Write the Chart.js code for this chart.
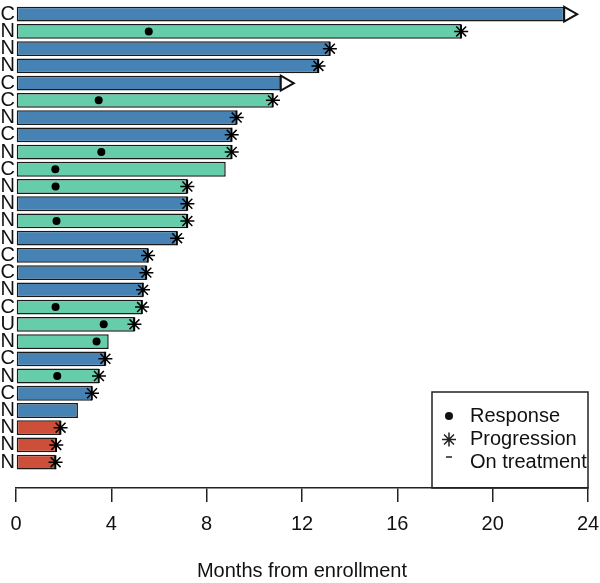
<!DOCTYPE html>
<html>
<head>
<meta charset="utf-8">
<script src="https://cdn.jsdelivr.net/npm/chart.js@4.4.1/dist/chart.umd.min.js"></script>
<style>
  html, body { margin: 0; padding: 0; background: #fff; }
</style>
</head>
<body>
<canvas id="swimmer" width="600" height="583"></canvas>
<script>
// one row per patient, top to bottom
const groups = ['C','N','N','N','C','C','N','C','N','C','N','N','N','N','C','C','N','C','U','N','C','N','C','N','N','N','N'];
const months = [23.0, 18.68, 13.17, 12.69, 11.11, 10.78, 9.26, 9.05, 9.05, 8.80, 7.19, 7.19, 7.19, 6.76,
  5.54, 5.47, 5.33, 5.29, 4.97, 3.89, 3.75, 3.48, 3.19, 2.60, 1.87, 1.69, 1.66];
const arms = ['blue','green','blue','blue','blue','green','blue','blue','green','green','green','blue','green','blue',
  'blue','blue','blue','green','green','green','blue','green','blue','blue','red','red','red'];
const response = [null, 5.57, null, null, null, 3.47, null, null, 3.58, 1.65, 1.66, null, 1.70, null,
  null, null, null, 1.66, 3.68, 3.38, null, 1.73, null, null, null, null, null];
const progression = [null, 18.68, 13.17, 12.69, null, 10.78, 9.26, 9.05, 9.05, null, 7.19, 7.19, 7.19, 6.76,
  5.54, 5.47, 5.33, 5.29, 4.97, null, 3.75, 3.48, 3.19, null, 1.87, 1.69, 1.66];
const onTreatment = [23.0, null, null, null, 11.11, null, null, null, null, null, null, null, null, null,
  null, null, null, null, null, null, null, null, null, null, null, null, null];
const legendItems = ['Response', 'Progression', 'On treatment'];

const armColors = { blue: '#4682B4', green: '#66CDAA', red: '#CD4F39' };
const FONT = "'Liberation Sans', Arial, sans-serif";

// blank slot at the bottom gives the gap above the axis
const rowLabels = groups.concat(['']);

// open triangles for patients still on treatment
const arrowPlugin = {
  id: 'arrows',
  afterDatasetsDraw(chart) {
    const ctx = chart.ctx;
    const xs = chart.scales.x, ys = chart.scales.y;
    const barMeta = chart.getDatasetMeta(2);
    ctx.save();
    onTreatment.forEach((v, i) => {
      if (v == null) return;
      const x = xs.getPixelForValue(v);
      const y = ys.getPixelForValue(i);
      const h = barMeta.data[i].height / 2;
      ctx.beginPath();
      ctx.moveTo(x, y - h);
      ctx.lineTo(x + 13, y);
      ctx.lineTo(x, y + h);
      ctx.closePath();
      ctx.fillStyle = '#fff';
      ctx.fill();
      ctx.lineWidth = 2;
      ctx.strokeStyle = '#111';
      ctx.stroke();
    });
    ctx.restore();
  }
};

// R-style boxed legend in the bottom right corner
const boxLegend = {
  id: 'boxLegend',
  afterDraw(chart) {
    const ctx = chart.ctx;
    const a = chart.chartArea;
    const w = 156, h = 96;
    const left = a.right - w, top = a.bottom - h;
    ctx.save();
    ctx.lineWidth = 1.5;
    ctx.strokeStyle = '#222';
    ctx.strokeRect(left, top, w, h);
    ctx.font = '20px ' + FONT;
    ctx.fillStyle = '#111';
    ctx.textBaseline = 'middle';
    const rows = [top + 24, top + 47.5, top + 70];
    legendItems.forEach((t, k) => {
      ctx.fillText(t, left + 38, rows[k]);
    });
    const sx = left + 17;
    // dot
    ctx.beginPath();
    ctx.arc(sx, rows[0], 4, 0, Math.PI * 2);
    ctx.fill();
    // asterisk
    ctx.lineWidth = 1.5;
    ctx.beginPath();
    for (let k = 0; k < 4; k++) {
      const ang = k * Math.PI / 4;
      ctx.moveTo(sx - 7 * Math.cos(ang), rows[1] - 7 * Math.sin(ang));
      ctx.lineTo(sx + 7 * Math.cos(ang), rows[1] + 7 * Math.sin(ang));
    }
    ctx.stroke();
    // dash
    ctx.beginPath();
    ctx.moveTo(sx - 3, rows[2] - 5);
    ctx.lineTo(sx + 3, rows[2] - 5);
    ctx.stroke();
    ctx.restore();
  }
};

new Chart(document.getElementById('swimmer'), {
  type: 'bar',
  data: {
    labels: rowLabels,
    datasets: [
      {
        type: 'line',
        label: 'Response',
        data: response,
        indexAxis: 'y',
        showLine: false,
        pointStyle: 'circle',
        pointRadius: 4,
        pointBackgroundColor: '#000',
        pointBorderColor: '#000',
        pointBorderWidth: 0,
        order: 1
      },
      {
        type: 'line',
        label: 'Progression',
        data: progression,
        indexAxis: 'y',
        showLine: false,
        pointStyle: 'star',
        pointRadius: 7,
        pointBorderColor: '#000',
        pointBorderWidth: 1.5,
        order: 2
      },
      {
        label: 'Months',
        data: months,
        indexAxis: 'y',
        backgroundColor: arms.map(a => armColors[a]),
        borderColor: '#1a1a1a',
        borderWidth: 1.5,
        borderSkipped: false,
        barPercentage: 0.86,
        categoryPercentage: 1.0,
        order: 3
      }
    ]
  },
  options: {
    responsive: false,
    animation: false,
    indexAxis: 'y',
    layout: { padding: 0, autoPadding: false },
    plugins: {
      legend: { display: false },
      tooltip: { enabled: false }
    },
    scales: {
      x: {
        type: 'linear',
        min: 0,
        max: 24,
        ticks: { stepSize: 4, color: '#111', font: { family: FONT, size: 20 }, padding: 10, maxRotation: 0 },
        grid: { display: true, drawOnChartArea: false, drawTicks: true, tickLength: 14, color: '#222', lineWidth: 1.5 },
        border: { display: true, color: '#222', width: 1.5 },
        title: {
          display: true,
          text: 'Months from enrollment',
          color: '#111',
          font: { family: FONT, size: 20 },
          padding: { top: 13, bottom: 0 }
        },
        afterFit(scale) { scale.paddingRight = 12; }
      },
      y: {
        type: 'category',
        offset: true,
        ticks: { color: '#111', font: { family: FONT, size: 20 }, padding: 1, autoSkip: false, minRotation: 0, maxRotation: 0 },
        grid: { display: false, drawTicks: false },
        border: { display: false },
        afterFit(scale) {
          scale.width = 16;
          scale.paddingTop = 5.6;
          scale.paddingBottom = 0;
        }
      }
    }
  },
  plugins: [arrowPlugin, boxLegend]
});
</script>
</body>
</html>
